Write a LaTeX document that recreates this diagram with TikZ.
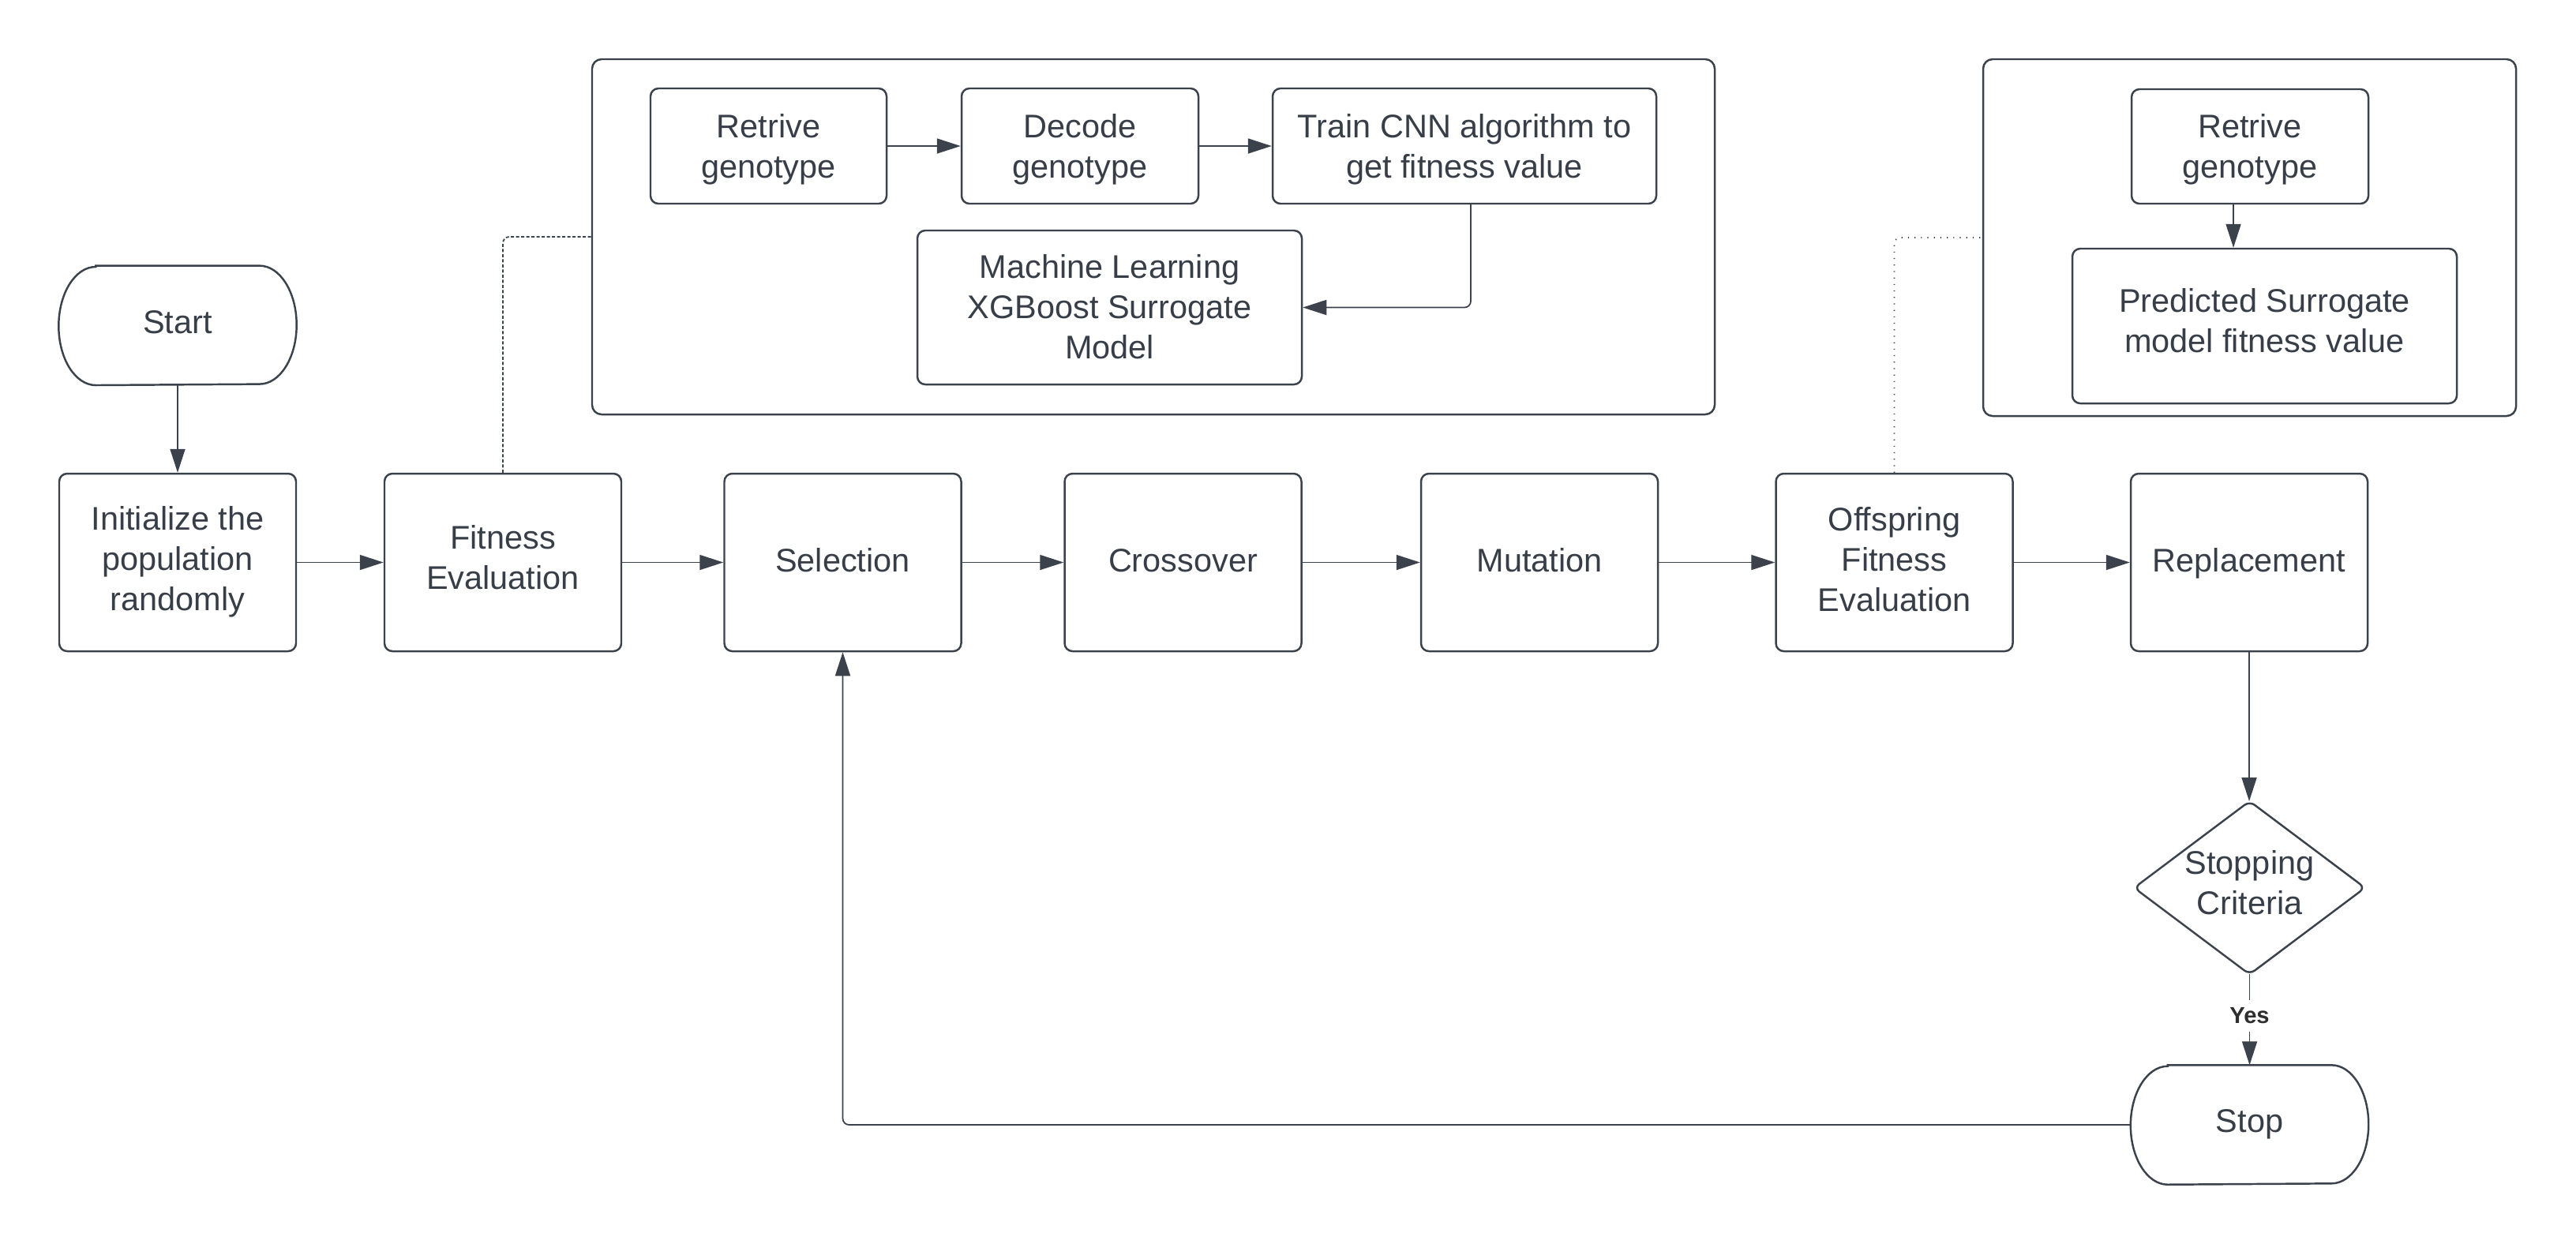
\documentclass[tikz,border=0pt]{standalone}
\usepackage{fontspec}
\setmainfont{Liberation Sans}
\usetikzlibrary{arrows.meta,calc}
\definecolor{lc}{RGB}{59,66,76}
\definecolor{tc}{RGB}{55,62,72}
\newcommand{\mfs}{\fontsize{11.8}{14.5}\selectfont}
\tikzset{
  vt/.style={text height=#1, text depth=0pt},
  box/.style={draw=lc, line width=0.7pt, rounded corners=0.1cm, align=center, text=tc, font=\mfs, inner sep=0pt},
  groupbox/.style={draw=lc, line width=0.7pt, rounded corners=0.12cm, inner sep=0pt},
  term/.style={align=center, text=tc, font=\mfs, inner sep=0pt, minimum width=3cm, minimum height=1.5cm},
  outline/.style={draw=lc, line width=0.7pt},
  conn/.style={draw=lc, line width=0.5pt, -{Triangle[length=0.3cm,width=0.19cm]}},
  dashconn/.style={draw=lc, line width=0.5pt, dash pattern=on 0.04cm off 0.025cm},
  dotconn/.style={draw=lc, line width=0.5pt, dash pattern=on 0.012cm off 0.07cm},
}
\begin{document}
\begin{tikzpicture}
\useasboundingbox (0,0) rectangle (32.63,-15.75);
% group boxes
\node[groupbox, minimum width=14.22cm, minimum height=4.5cm] (g1) at (14.61,-3.0) {};
\node[groupbox, minimum width=6.75cm, minimum height=4.52cm] (g2) at (28.495,-3.01) {};
% inner boxes group 1
\node[box, vt=22.95pt, minimum width=2.99cm, minimum height=1.46cm] (ret1) at (9.735,-1.85) {Retrive\\genotype};
\node[box, vt=22.95pt, minimum width=3.0cm, minimum height=1.46cm] (dec) at (13.68,-1.85) {Decode\\genotype};
\node[box, vt=22.95pt, minimum width=4.86cm, minimum height=1.46cm] (train) at (18.55,-1.85) {Train CNN algorithm to\\get fitness value};
\node[box, vt=37.17pt, minimum width=4.87cm, minimum height=1.95cm] (ml) at (14.055,-3.895) {Machine Learning\\XGBoost Surrogate\\Model};
% inner boxes group 2
\node[box, vt=22.95pt, minimum width=3.0cm, minimum height=1.45cm] (ret2) at (28.5,-1.855) {Retrive\\genotype};
\node[box, vt=18.97pt, minimum width=4.87cm, minimum height=1.96cm] (pred) at (28.685,-4.13) {Predicted Surrogate\\model fitness value};
% start / stop terminals
\node[term, vt=5.89pt] (start) at (2.25,-4.123) {Start};
\node[term, vt=5.15pt] (stop) at (28.495,-14.25) {Stop};
\foreach \n in {start,stop}{
  \draw[outline] ([xshift=0.47cm]\n.north west) -- ([xshift=-0.47cm]\n.north east)
    arc[start angle=90, end angle=-90, x radius=0.47cm, y radius=0.75cm]
    -- ([xshift=0.47cm]\n.south west)
    arc[start angle=270, end angle=90, x radius=0.47cm, y radius=0.75cm] -- cycle;
}
% main row
\node[box, vt=34.89pt, minimum width=3.0cm, minimum height=2.25cm] (init) at (2.25,-7.125) {Initialize the\\population\\randomly};
\node[box, vt=19.19pt, minimum width=3.0cm, minimum height=2.25cm] (fit) at (6.37,-7.125) {Fitness\\Evaluation};
\node[box, vt=6.57pt, minimum width=3.0cm, minimum height=2.25cm] (sel) at (10.675,-7.125) {Selection};
\node[box, vt=6.57pt, minimum width=3.0cm, minimum height=2.25cm] (cross) at (14.985,-7.125) {Crossover};
\node[box, vt=6.57pt, minimum width=3.0cm, minimum height=2.25cm] (mut) at (19.5,-7.125) {Mutation};
\node[box, vt=35.17pt, minimum width=3.0cm, minimum height=2.25cm] (off) at (23.995,-7.125) {Offspring\\Fitness\\Evaluation};
\node[box, vt=6.57pt, minimum width=3.0cm, minimum height=2.25cm] (rep) at (28.49,-7.125) {Replacement};
% decision
\node[term, vt=19.25pt, minimum width=2.91cm, minimum height=2.18cm] (dia) at (28.495,-11.247) {Stopping\\Criteria};
\draw[outline, rounded corners=0.08cm] (dia.north) -- (dia.east) -- (dia.south) -- (dia.west) -- cycle;
% connectors
\draw[conn] (start.south) -- (init.north);
\draw[conn] (init.east) -- (fit.west);
\draw[conn] (fit.east) -- (sel.west);
\draw[conn] (sel.east) -- (cross.west);
\draw[conn] (cross.east) -- (mut.west);
\draw[conn] (mut.east) -- (off.west);
\draw[conn] (off.east) -- (rep.west);
\draw[conn] (rep.south) -- (rep.south |- dia.north);
\draw[conn] (dia.south) -- node[pos=0.457, fill=white, inner xsep=1pt, inner ysep=2.8pt, text=black!82, font=\fontsize{8.3}{10}\selectfont\bfseries] (yes) {Yes} (stop.north);
\draw[conn, rounded corners=0.08cm] (stop.west) -| (sel.south);
\draw[conn] (ret1.east) -- (dec.west);
\draw[conn] (dec.east) -- (train.west);
\draw[conn, rounded corners=0.08cm] ([xshift=0.08cm]train.south) |- (ml.east);
\coordinate (r2a) at ([xshift=-0.21cm]ret2.south);
\draw[conn] (r2a) -- (r2a |- pred.north);
\draw[dashconn, rounded corners=0.08cm] (fit.north) |- (g1.west);
\draw[dotconn, rounded corners=0.08cm] (off.north) |- (g2.west);
\end{tikzpicture}
\end{document}
